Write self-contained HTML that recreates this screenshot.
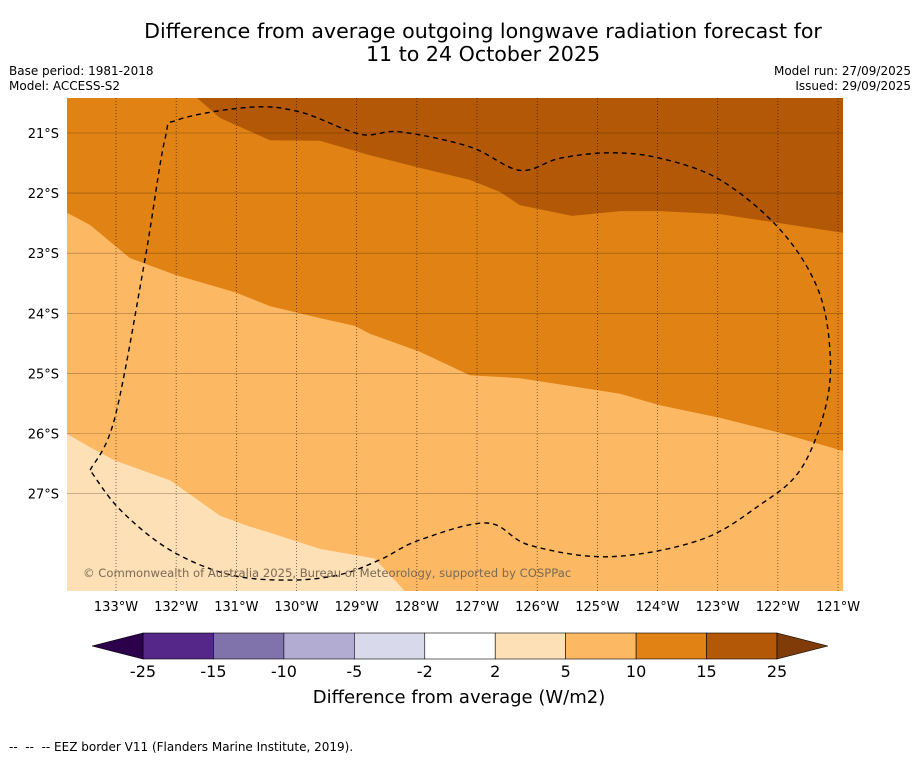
<!DOCTYPE html>
<html><head><meta charset="utf-8"><style>
body{margin:0;background:#fff;font-family:"Liberation Sans","DejaVu Sans",sans-serif;}
</style></head><body>
<svg id="chart" width="919" height="758" xmlns="http://www.w3.org/2000/svg" font-family="DejaVu Sans, Liberation Sans, sans-serif">
<text x="483" y="38" font-size="20.6" text-anchor="middle">Difference from average outgoing longwave radiation forecast for</text>
<text x="483" y="61" font-size="20.6" text-anchor="middle">11 to 24 October 2025</text>
<text x="9" y="75" font-size="12">Base period: 1981-2018</text>
<text x="9" y="90" font-size="12">Model: ACCESS-S2</text>
<text x="911" y="75" font-size="12" text-anchor="end">Model run: 27/09/2025</text>
<text x="911" y="90" font-size="12" text-anchor="end">Issued: 29/09/2025</text>
<g id="map"></g>
<g id="cbar"></g>
<text x="459" y="703" font-size="18" text-anchor="middle">Difference from average (W/m2)</text>
<text x="9" y="751" font-size="12" style="white-space:pre">--  --  -- EEZ border V11 (Flanders Marine Institute, 2019).</text>
</svg>
<script>
const lonTicks=[-133,-132,-131,-130,-129,-128,-127,-126,-125,-124,-123,-122,-121];
const latTicks=[-21,-22,-23,-24,-25,-26,-27];
const levels=[-25,-15,-10,-5,-2,2,5,10,15,25];
const levelColors=["#542788","#8073ac","#b2abd2","#d8daeb","#ffffff","#fee0b6","#fdb863","#e08214","#b35806"];
const extLowColor="#2d004b", extHighColor="#7f3b08";
const b15=[[-131.65,-20.42],[-131.27,-20.75],[-130.44,-21.12],[-129.61,-21.13],[-128.78,-21.37],[-127.95,-21.58],[-127.12,-21.78],[-126.62,-21.98],[-126.29,-22.2],[-125.42,-22.38],[-124.62,-22.3],[-123.96,-22.3],[-122.96,-22.35],[-121.96,-22.5],[-120.91,-22.66]];
const b10=[[-133.81,-22.33],[-133.43,-22.53],[-132.77,-23.08],[-132.02,-23.36],[-131.02,-23.65],[-130.44,-23.88],[-129.61,-24.08],[-129.03,-24.21],[-128.78,-24.34],[-127.95,-24.64],[-127.12,-25.03],[-126.29,-25.08],[-125.45,-25.21],[-124.62,-25.34],[-123.96,-25.53],[-122.96,-25.74],[-121.96,-25.99],[-120.92,-26.29]];
const b5=[[-133.81,-26.01],[-133.43,-26.23],[-133.02,-26.45],[-132.1,-26.78],[-131.27,-27.37],[-130.77,-27.55],[-130.44,-27.65],[-129.61,-27.92],[-128.7,-28.08],[-128.2,-28.62]];
const eez=[[-133.43,-26.61],[-133.02,-25.74],[-132.52,-23.11],[-132.19,-21.12],[-131.97,-20.78],[-130.77,-20.57],[-129.94,-20.65],[-128.94,-21.02],[-128.28,-20.98],[-127.12,-21.23],[-126.29,-21.62],[-125.62,-21.42],[-124.79,-21.33],[-123.96,-21.42],[-122.96,-21.78],[-121.96,-22.61],[-121.33,-23.61],[-121.13,-24.69],[-121.22,-25.61],[-121.63,-26.61],[-122.3,-27.19],[-123.29,-27.77],[-124.79,-28.05],[-126.12,-27.86],[-126.83,-27.49],[-127.95,-27.77],[-128.61,-28.1],[-129.28,-28.35],[-130.11,-28.44],[-131.11,-28.35],[-132.1,-27.94],[-132.93,-27.27],[-133.43,-26.61]];
const X0=67,X1=843,Y0=98,Y1=591;
const xs=lon=>116+(lon+133)*60.17;
const ys=lat=>133+(-21-lat)*60.1;
const NS="http://www.w3.org/2000/svg";
const map=document.getElementById('map');
function mk(tag,attrs,parent){const e=document.createElementNS(NS,tag);for(const k in attrs)e.setAttribute(k,attrs[k]);parent.appendChild(e);return e;}
const pts=a=>a.map(p=>xs(p[0]).toFixed(1)+","+ys(p[1]).toFixed(1)).join(" L");
function smooth(a){const P=a.map(p=>[xs(p[0]),ys(p[1])]);let d="M"+P[0][0].toFixed(1)+","+P[0][1].toFixed(1);
 for(let i=0;i<P.length-1;i++){const p0=P[Math.max(i-1,0)],p1=P[i],p2=P[i+1],p3=P[Math.min(i+2,P.length-1)];
  const c1=[p1[0]+(p2[0]-p0[0])/6,p1[1]+(p2[1]-p0[1])/6],c2=[p2[0]-(p3[0]-p1[0])/6,p2[1]-(p3[1]-p1[1])/6];
  d+=` C${c1[0].toFixed(1)},${c1[1].toFixed(1)} ${c2[0].toFixed(1)},${c2[1].toFixed(1)} ${p2[0].toFixed(1)},${p2[1].toFixed(1)}`;}
 return d;}
const defs=mk('defs',{},map);const cp=mk('clipPath',{id:'clip'},defs);mk('rect',{x:X0,y:Y0,width:X1-X0,height:Y1-Y0},cp);
const g=mk('g',{'clip-path':'url(#clip)'},map);
let r=mk('rect',{x:X0,y:Y0,width:X1-X0,height:Y1-Y0,fill:levelColors[8]},g);


let p=mk('path',{d:"M"+pts(b15)+` L${X1+20},${Y1+20} L${X0-20},${Y1+20} L${X0-20},${Y0-20} Z`,fill:levelColors[7]},g);


p=mk('path',{d:"M"+pts(b10)+` L${X1+20},${Y1+20} L${X0-20},${Y1+20} Z`,fill:levelColors[6]},g);


p=mk('path',{d:"M"+pts(b5)+` L${X0-20},${Y1+20} Z`,fill:levelColors[5]},g);


lonTicks.forEach(l=>{const x=xs(l);
 let ln=mk('line',{x1:x,x2:x,y1:Y0,y2:Y1,stroke:'#000','stroke-width':0.7,'stroke-dasharray':'1,2',opacity:0.7},g);
 
 
 let t=mk('text',{x:x,y:611,'font-size':13,'text-anchor':'middle'},map);t.textContent=Math.abs(l)+"°W";
 
 });
latTicks.forEach(l=>{const y=ys(l);
 let ln=mk('line',{x1:X0,x2:X1,y1:y,y2:y,stroke:'#000','stroke-width':0.6,opacity:0.35},g);
 
 
 let t=mk('text',{x:59,y:y+5,'font-size':13,'text-anchor':'end'},map);t.textContent=Math.abs(l)+"°S";
 
 });
p=mk('path',{d:smooth(eez),fill:'none',stroke:'#000','stroke-width':1.4,'stroke-dasharray':'5,4'},g);


let ct=mk('text',{x:83,y:577,'font-size':11.6,fill:'#7a6a55'},map);ct.textContent="© Commonwealth of Australia 2025, Bureau of Meteorology, supported by COSPPac";


const cb=document.getElementById('cbar');const cx0=143,cx1=777,cy0=633,cy1=659;const bw=(cx1-cx0)/levelColors.length;
levelColors.forEach((c,i)=>{let rr=mk('rect',{x:cx0+i*bw,y:cy0,width:bw,height:cy1-cy0,fill:c,stroke:'#000','stroke-width':0.6},cb);
 
 });
let tl=mk('polygon',{points:`${cx0},${cy0} 92,646 ${cx0},${cy1}`,fill:extLowColor,stroke:'#000','stroke-width':0.6},cb);


let th=mk('polygon',{points:`${cx1},${cy0} 828,646 ${cx1},${cy1}`,fill:extHighColor,stroke:'#000','stroke-width':0.6},cb);


levels.forEach((v,i)=>{let t=mk('text',{x:cx0+i*bw,y:677,'font-size':16,'text-anchor':'middle'},cb);t.textContent=v;
 
 });
</script>
</body></html>
